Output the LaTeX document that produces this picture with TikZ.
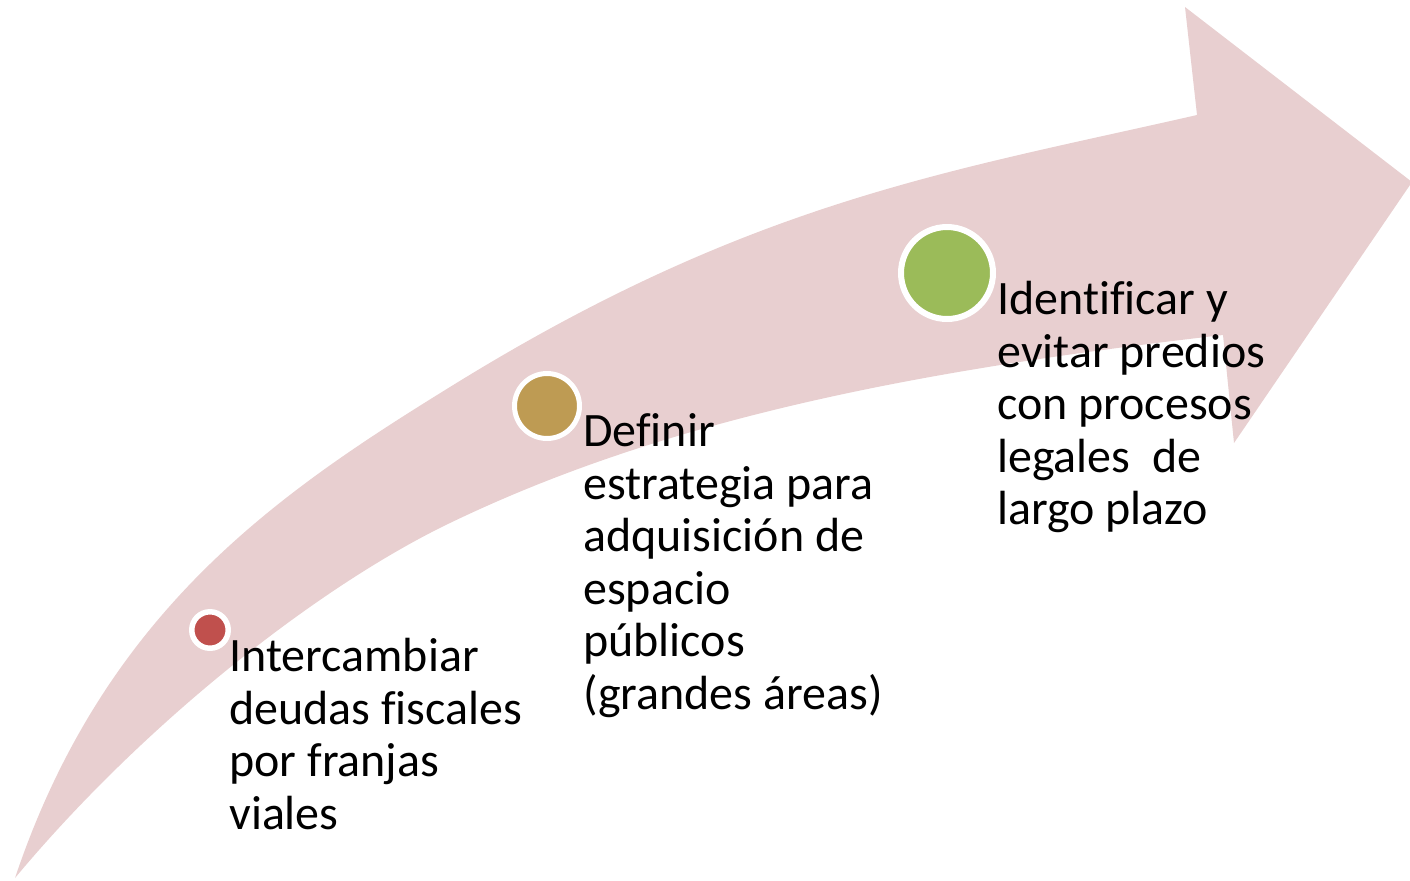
\documentclass[tikz,border=0pt]{standalone}
\usepackage{fontspec}
\setmainfont{Carlito}[Ligatures=NoCommon]
\definecolor{band}{HTML}{E8CFD0}
\definecolor{dotred}{HTML}{C0504D}
\definecolor{dotgold}{HTML}{BE9B53}
\definecolor{dotgreen}{HTML}{9BBB59}
\begin{document}
\begin{tikzpicture}[x=0.02cm,y=-0.02cm,
  dot/.style={circle,draw=white,inner sep=0pt},
  lbl/.style={anchor=north west,align=left,inner sep=0pt,font=\fontsize{27.3}{29.9}\selectfont}]
\useasboundingbox (0,0) rectangle (1410,880);
\fill[band] (15,878) .. controls (105,610) and (280,492) .. (450,387)
  .. controls (750,201) and (947,172) .. (1197,115)
  -- (1185,7) -- (1412,182) -- (1234,443) -- (1223,335)
  .. controls (923,369.5) and (670,417) .. (450,523)
  .. controls (320,585.4) and (145,722) .. (15,878) -- cycle;
\node[dot, fill=dotred, minimum size=0.73cm, line width=0.11cm] (c1) at (210,630) {};
\node[dot, fill=dotgold, minimum size=1.3cm, line width=0.1cm] (c2) at (547,406) {};
\node[dot, fill=dotgreen, minimum size=1.84cm, line width=0.12cm] (c3) at (947,273) {};
\node[lbl] (t1) at (229,638) {Intercambiar\\deudas fiscales\\por franjas\\viales};
\node[lbl] (t2) at (583,413.5) {Definir\\estrategia para\\adquisición de\\espacio\\públicos\\(grandes áreas)};
\node[lbl] (t3) at (997,281) {Identificar y\\evitar predios\\con procesos\\legales\ \ de\\largo plazo};
\end{tikzpicture}
\end{document}
